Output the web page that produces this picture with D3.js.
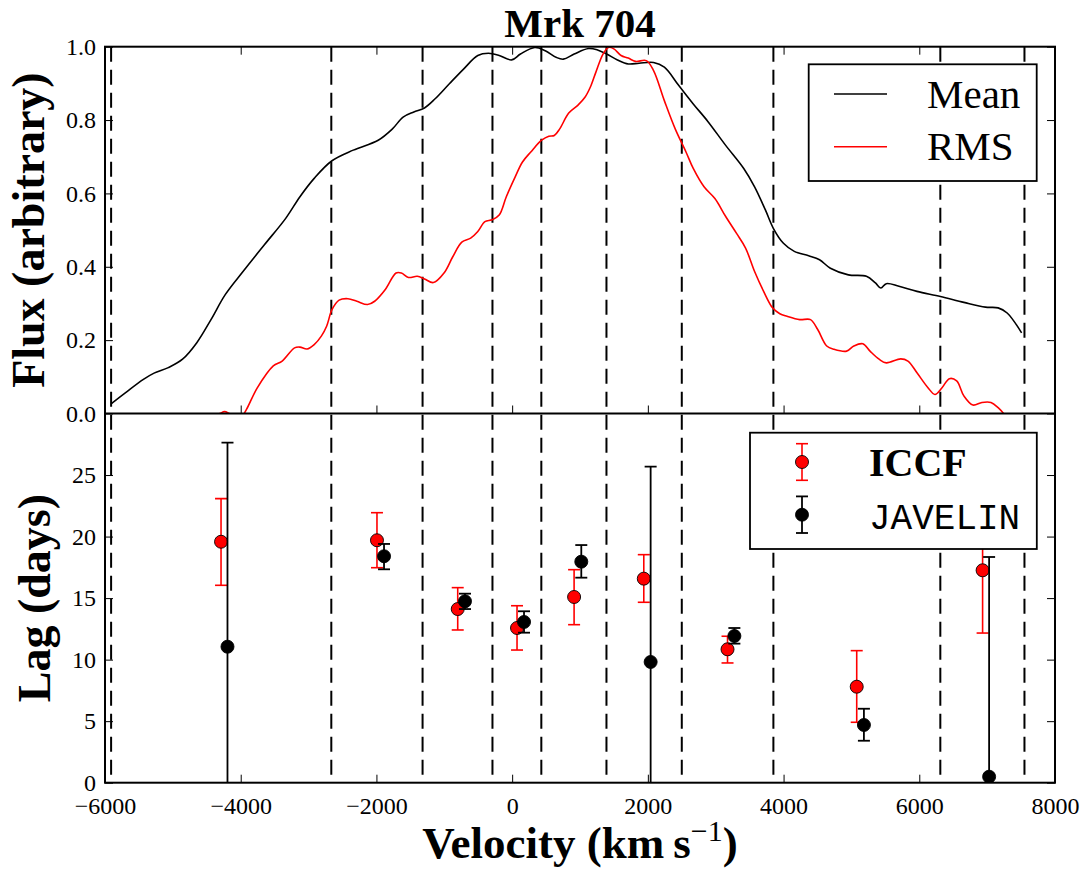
<!DOCTYPE html>
<html>
<head>
<meta charset="utf-8">
<script src="https://cdn.jsdelivr.net/npm/d3@7"></script>
<style>
  html, body { margin: 0; padding: 0; background: #fff; }
  svg { display: block; }
</style>
</head>
<body>
<svg id="chart" width="1086" height="873"></svg>
<script>
// ---------------- DATA ----------------
const xTicks = [-6000, -4000, -2000, 0, 2000, 4000, 6000, 8000];
const fluxTicks = [0.0, 0.2, 0.4, 0.6, 0.8, 1.0];
const lagTicks = [0, 5, 10, 15, 20, 25];

// velocity bin edges (dashed lines)
const binEdges = [-5910, -2665, -1320, -290, 430, 1390, 2500, 3850, 6310, 7550];

// Mean spectrum
const meanVel = [-5906, -5696, -5434, -5277, -5067, -4857, -4647, -4438, -4228, -3966, -3651, -3337, -3127, -2917, -2655, -2341, -1974, -1764, -1607, -1449, -1292, -1135, -925, -716, -506, -349, -191, -8, 123, 333, 488, 648, 754, 914, 1126, 1259, 1392, 1552, 1711, 1871, 2084, 2243, 2456, 2669, 2881, 3147, 3413, 3573, 3732, 3849, 3998, 4158, 4370, 4530, 4690, 4955, 5221, 5354, 5434, 5514, 5700, 5966, 6311, 6657, 6976, 7162, 7295, 7508];
const meanFlux = [0.027, 0.057, 0.093, 0.110, 0.125, 0.148, 0.193, 0.256, 0.324, 0.387, 0.460, 0.532, 0.591, 0.641, 0.689, 0.718, 0.745, 0.776, 0.808, 0.822, 0.833, 0.858, 0.899, 0.939, 0.976, 0.982, 0.976, 0.964, 0.980, 0.998, 0.989, 0.971, 0.966, 0.980, 0.995, 0.991, 0.980, 0.964, 0.953, 0.955, 0.957, 0.944, 0.894, 0.844, 0.797, 0.731, 0.668, 0.618, 0.555, 0.505, 0.464, 0.442, 0.430, 0.419, 0.396, 0.378, 0.374, 0.356, 0.342, 0.354, 0.347, 0.333, 0.319, 0.303, 0.290, 0.288, 0.274, 0.220];

// RMS spectrum
const rmsVel = [-4450, -4307, -4240, -4170, -4080, -3990, -3913, -3756, -3520, -3389, -3206, -3127, -3022, -2917, -2812, -2734, -2655, -2550, -2420, -2288, -2131, -2026, -1869, -1711, -1633, -1528, -1397, -1292, -1161, -1004, -873, -742, -611, -506, -401, -296, -191, -86, 45, 150, 275, 435, 541, 621, 701, 834, 967, 1073, 1153, 1233, 1339, 1419, 1499, 1605, 1711, 1818, 1977, 2084, 2243, 2403, 2562, 2669, 2828, 2988, 3147, 3307, 3440, 3573, 3706, 3838, 3945, 4051, 4237, 4397, 4503, 4636, 4743, 4929, 5035, 5168, 5274, 5407, 5514, 5726, 5833, 5966, 6125, 6231, 6338, 6444, 6551, 6657, 6790, 6923, 7056, 7162, 7242, 7320];
const rmsFlux = [-0.010, 0.000, 0.005, 0.000, -0.010, -0.010, 0.012, 0.070, 0.130, 0.143, 0.179, 0.181, 0.176, 0.188, 0.211, 0.238, 0.283, 0.309, 0.313, 0.306, 0.297, 0.306, 0.338, 0.383, 0.383, 0.371, 0.374, 0.367, 0.357, 0.383, 0.428, 0.467, 0.478, 0.496, 0.523, 0.528, 0.541, 0.591, 0.645, 0.685, 0.713, 0.745, 0.756, 0.758, 0.776, 0.819, 0.840, 0.862, 0.890, 0.930, 0.980, 0.998, 0.994, 0.976, 0.969, 0.960, 0.962, 0.935, 0.853, 0.776, 0.713, 0.668, 0.618, 0.586, 0.537, 0.491, 0.451, 0.387, 0.333, 0.288, 0.272, 0.265, 0.256, 0.256, 0.229, 0.184, 0.175, 0.170, 0.184, 0.190, 0.170, 0.148, 0.138, 0.149, 0.143, 0.111, 0.071, 0.052, 0.071, 0.095, 0.089, 0.048, 0.023, 0.030, 0.030, 0.016, 0.000, -0.020];

// ICCF lags
const iccfVel = [-4290, -1992, -802, 72, 913, 1940, 3174, 5078, 6933];
const iccfLag = [19.58, 19.70, 14.11, 12.57, 15.09, 16.58, 10.84, 7.80, 17.26];
const iccfErrHi = [3.50, 2.24, 1.74, 1.81, 2.22, 1.95, 1.06, 2.93, 4.74];
const iccfErrLo = [3.54, 2.23, 1.70, 1.79, 2.25, 1.92, 1.11, 2.89, 5.10];

// JAVELIN lags
const javVel = [-4195, -1888, -695, 175, 1019, 2041, 3275, 5184, 7029];
const javLag = [11.05, 18.40, 14.74, 13.06, 17.96, 9.81, 11.92, 4.69, 0.49];
const javErrHi = [16.58, 1.00, 0.62, 0.87, 1.35, 15.87, 0.65, 1.32, 17.85];
const javErrLo = [11.60, 1.06, 0.63, 0.87, 1.30, 10.40, 0.62, 1.28, 1.50];

// ---------------- LAYOUT ----------------
const L = 105, R = 1055, T = 46.7, MID = 413.5, B = 782.7;
const serif = "'Liberation Serif', 'Times New Roman', serif";
const mono = "'Liberation Mono', 'Courier New', monospace";

const svg = d3.select("#chart");
svg.append("rect").attr("width", 1086).attr("height", 873).attr("fill", "#fff");

const x = d3.scaleLinear().domain([-6000, 8000]).range([L, R]);
const yTop = d3.scaleLinear().domain([0, 1]).range([MID, T]);
const yBot = d3.scaleLinear().domain([0, 30]).range([B, MID]);

const defs = svg.append("defs");
defs.append("clipPath").attr("id", "clipTop").append("rect")
  .attr("x", L).attr("y", T).attr("width", R - L).attr("height", MID - T);
defs.append("clipPath").attr("id", "clipBot").append("rect")
  .attr("x", L).attr("y", MID).attr("width", R - L).attr("height", B - MID);

const fmtX = d => (d < 0 ? "\u2212" : "") + Math.abs(d);

// ---------- dashed bin edges ----------
svg.append("g").selectAll("line").data(binEdges).join("line")
  .attr("x1", d => x(d)).attr("x2", d => x(d))
  .attr("y1", T).attr("y2", B)
  .attr("stroke", "#000").attr("stroke-width", 2)
  .attr("stroke-dasharray", "15,8");

// ---------- top panel curves ----------
const line = d3.line().x(d => x(d[0])).y(d => yTop(d[1])).curve(d3.curveCatmullRom.alpha(0.5));
const gTop = svg.append("g").attr("clip-path", "url(#clipTop)");
gTop.append("path").datum(meanVel.map((v, i) => [v, meanFlux[i]]))
  .attr("d", line).attr("fill", "none").attr("stroke", "#000").attr("stroke-width", 1.6);
gTop.append("path").datum(rmsVel.map((v, i) => [v, rmsFlux[i]]))
  .attr("d", line).attr("fill", "none").attr("stroke", "#ff0000").attr("stroke-width", 1.6);

// ---------- bottom panel error bars ----------
const gBot = svg.append("g").attr("clip-path", "url(#clipBot)");
function drawErr(g, vel, lag, hi, lo, color, fill, sw) {
  const data = vel.map((v, i) => ({ v, lag: lag[i], hi: lag[i] + hi[i], lo: lag[i] - lo[i] }));
  const cap = 6;
  const gg = g.append("g");
  gg.selectAll(".eb").data(data).join("line")
    .attr("x1", d => x(d.v)).attr("x2", d => x(d.v))
    .attr("y1", d => yBot(d.hi)).attr("y2", d => yBot(d.lo))
    .attr("stroke", color).attr("stroke-width", sw);
  gg.selectAll(".ct").data(data).join("line")
    .attr("x1", d => x(d.v) - cap).attr("x2", d => x(d.v) + cap)
    .attr("y1", d => yBot(d.hi)).attr("y2", d => yBot(d.hi))
    .attr("stroke", color).attr("stroke-width", sw);
  gg.selectAll(".cb").data(data).join("line")
    .attr("x1", d => x(d.v) - cap).attr("x2", d => x(d.v) + cap)
    .attr("y1", d => yBot(d.lo)).attr("y2", d => yBot(d.lo))
    .attr("stroke", color).attr("stroke-width", sw);
  gg.selectAll("circle").data(data).join("circle")
    .attr("cx", d => x(d.v)).attr("cy", d => yBot(d.lag)).attr("r", 6.5)
    .attr("fill", fill).attr("stroke", "#000").attr("stroke-width", 0.9);
}
drawErr(gBot, iccfVel, iccfLag, iccfErrHi, iccfErrLo, "#ff0000", "#ff0000", 1.6);
drawErr(gBot, javVel, javLag, javErrHi, javErrLo, "#000", "#000", 1.8);

// ---------- axes (ticks inward) ----------
function styleAxis(g) {
  g.attr("font-family", serif);
  g.select(".domain").remove();
  g.selectAll(".tick line").attr("stroke", "#000").attr("stroke-width", 1);
  g.selectAll(".tick text").attr("font-family", serif).attr("font-size", 24).attr("fill", "#000");
}
// bottom panel x axis with labels
svg.append("g").attr("transform", `translate(0,${B})`)
  .call(d3.axisBottom(x).tickValues(xTicks).tickSizeInner(-8).tickSizeOuter(0).tickPadding(14).tickFormat(fmtX))
  .call(styleAxis);
// top panel: bottom edge (ticks up) and top edge (ticks down)
svg.append("g").attr("transform", `translate(0,${MID})`)
  .call(d3.axisBottom(x).tickValues(xTicks).tickSizeInner(-8).tickSizeOuter(0).tickFormat(""))
  .call(styleAxis);
svg.append("g").attr("transform", `translate(0,${T})`)
  .call(d3.axisTop(x).tickValues(xTicks).tickSizeInner(-8).tickSizeOuter(0).tickFormat(""))
  .call(styleAxis);
// y axes
svg.append("g").attr("transform", `translate(${L},0)`)
  .call(d3.axisLeft(yTop).tickValues(fluxTicks).tickSizeInner(-8).tickSizeOuter(0).tickPadding(9).tickFormat(d3.format(".1f")))
  .call(styleAxis);
svg.append("g").attr("transform", `translate(${R},0)`)
  .call(d3.axisRight(yTop).tickValues(fluxTicks).tickSizeInner(-8).tickSizeOuter(0).tickFormat(""))
  .call(styleAxis);
svg.append("g").attr("transform", `translate(${L},0)`)
  .call(d3.axisLeft(yBot).tickValues(lagTicks).tickSizeInner(-8).tickSizeOuter(0).tickPadding(9).tickFormat(d3.format("d")))
  .call(styleAxis);
svg.append("g").attr("transform", `translate(${R},0)`)
  .call(d3.axisRight(yBot).tickValues(lagTicks).tickSizeInner(-8).tickSizeOuter(0).tickFormat(""))
  .call(styleAxis);

// ---------- frames ----------
svg.append("rect").attr("x", L).attr("y", T).attr("width", R - L).attr("height", B - T)
  .attr("fill", "none").attr("stroke", "#000").attr("stroke-width", 2);
svg.append("line").attr("x1", L).attr("x2", R).attr("y1", MID).attr("y2", MID)
  .attr("stroke", "#000").attr("stroke-width", 2);

// ---------- legends ----------
// top legend
const lg1 = svg.append("g");
lg1.append("rect").attr("x", 808.7).attr("y", 64.3).attr("width", 228).attr("height", 116.7)
  .attr("fill", "#fff").attr("stroke", "#000").attr("stroke-width", 1.8);
const legTop = [{ name: "Mean", color: "#000", y: 94 }, { name: "RMS", color: "#ff0000", y: 146.7 }];
legTop.forEach(d => {
  lg1.append("line").attr("x1", 834).attr("x2", 887).attr("y1", d.y).attr("y2", d.y)
    .attr("stroke", d.color).attr("stroke-width", 1.6);
  lg1.append("text").attr("x", 927).attr("y", d.y + 13.5).text(d.name)
    .attr("font-family", serif).attr("font-size", 41).attr("fill", "#000");
});

// bottom legend
const lg2 = svg.append("g");
lg2.append("rect").attr("x", 750).attr("y", 432.7).attr("width", 286.8).attr("height", 116.3)
  .attr("fill", "#fff").attr("stroke", "#000").attr("stroke-width", 1.8);
const legBot = [
  { name: "ICCF", color: "#ff0000", y: 462, font: serif, size: 40, weight: "bold", sw: 1.6 },
  { name: "JAVELIN", color: "#000", y: 514.7, font: mono, size: 36, weight: "normal", sw: 1.8 }
];
legBot.forEach(d => {
  const cx = 802, h = 18.3, cap = 6;
  lg2.append("line").attr("x1", cx).attr("x2", cx).attr("y1", d.y - h).attr("y2", d.y + h)
    .attr("stroke", d.color).attr("stroke-width", d.sw);
  [d.y - h, d.y + h].forEach(yy => lg2.append("line").attr("x1", cx - cap).attr("x2", cx + cap)
    .attr("y1", yy).attr("y2", yy).attr("stroke", d.color).attr("stroke-width", d.sw));
  lg2.append("circle").attr("cx", cx).attr("cy", d.y).attr("r", 6.5)
    .attr("fill", d.color).attr("stroke", "#000").attr("stroke-width", 0.9);
  lg2.append("text").attr("x", 869).attr("y", d.y + 14).text(d.name)
    .attr("font-family", d.font).attr("font-size", d.size).attr("font-weight", d.weight).attr("fill", "#000");
});

// ---------- titles & labels ----------
svg.append("text").attr("x", (L + R) / 2).attr("y", 37).attr("text-anchor", "middle")
  .attr("font-family", serif).attr("font-size", 41).attr("font-weight", "bold").text("Mrk 704");

svg.append("text").attr("transform", `translate(44,${(T + MID) / 2}) rotate(-90)`)
  .attr("text-anchor", "middle").attr("font-family", serif).attr("font-size", 46).attr("font-weight", "bold")
  .text("Flux (arbitrary)");
svg.append("text").attr("transform", `translate(50,${(MID + B) / 2}) rotate(-90)`)
  .attr("text-anchor", "middle").attr("font-family", serif).attr("font-size", 46).attr("font-weight", "bold")
  .text("Lag (days)");

const xl = svg.append("text").attr("x", (L + R) / 2).attr("y", 858).attr("text-anchor", "middle")
  .attr("font-family", serif).attr("font-size", 45).attr("font-weight", "bold");
xl.append("tspan").text("Velocity (km\u2009s");
xl.append("tspan").attr("dy", -17).attr("font-size", 30).attr("font-weight", "normal").text("\u22121");
xl.append("tspan").attr("dy", 17).text(")");
</script>
</body>
</html>
